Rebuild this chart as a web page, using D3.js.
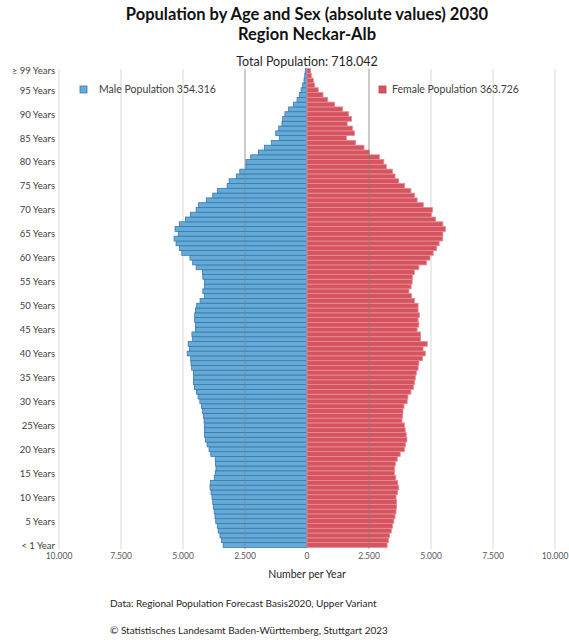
<!DOCTYPE html>
<html>
<head>
<meta charset="utf-8">
<script src="https://d3js.org/d3.v7.min.js"></script>
<style>
  body { margin: 0; background: #fff; }
  svg { font-family: Lato, "Open Sans", sans-serif; }
</style>
</head>
<body>
<svg id="chart"></svg>
<script>
// population per single year of age, index = age 0..99 (99 = "99 and older")
var male = [3380,3450,3510,3580,3620,3680,3710,3740,3780,3800,
            3830,3870,3910,3900,3740,3700,3670,3690,3700,3880,
            3950,4030,4100,4130,4130,4130,4150,4180,4210,4250,
            4320,4390,4460,4540,4580,4570,4580,4650,4680,4690,
            4830,4740,4790,4610,4640,4500,4500,4530,4530,4500,
            4450,4310,4130,4200,4130,4130,4200,4220,4470,4610,
            4720,5050,5150,5280,5360,5190,5320,5150,4900,4700,
            4470,4380,4060,3800,3610,3220,3140,2850,2710,2460,
            2460,2270,1960,1710,1440,1120,1260,1140,1010,980,
            890,740,540,400,310,240,175,120,90,70];
var female = [3230,3290,3330,3400,3450,3500,3550,3590,3610,3610,
              3590,3650,3700,3660,3580,3530,3530,3560,3640,3760,
              3930,3970,4030,4000,3960,3930,3830,3860,3870,3910,
              4040,4070,4190,4290,4340,4370,4410,4480,4510,4660,
              4770,4680,4850,4580,4580,4440,4510,4480,4530,4480,
              4480,4340,4220,4110,4200,4240,4250,4330,4510,4820,
              4960,5090,5230,5330,5470,5480,5580,5480,5190,5020,
              5060,4690,4440,4340,4190,3940,3700,3550,3450,3200,
              3100,2920,2520,2300,1960,1590,1910,1830,1620,1800,
              1680,1440,1115,835,645,455,310,255,175,150];

var labelAges = [99,95,90,85,80,75,70,65,60,55,50,45,40,35,30,25,20,15,10,5,0];
var labelTexts = ["≥ 99 Years","95 Years","90 Years","85 Years","80 Years","75 Years",
                  "70 Years","65 Years","60 Years","55 Years","50 Years","45 Years",
                  "40 Years","35 Years","30 Years","25Years","20 Years","15 Years",
                  "10 Years","5 Years","< 1 Year"];
var xTicks = [-10000,-7500,-5000,-2500,0,2500,5000,7500,10000];

var maleLabel = "Male Population 354.316";
var femaleLabel = "Female Population 363.726";
var totalLabel = "Total Population: 718.042";

var width = 569, height = 640;
var svg = d3.select("#chart").attr("width", width).attr("height", height);

var x = d3.scaleLinear().domain([-10000, 10000]).range([59, 555]);
var y = d3.scaleBand().domain(d3.range(99, -1, -1)).range([68.6, 547.4]).padding(0);

var fmt = function (v) { return d3.format(",")(Math.abs(v)).replace(/,/g, "."); };

// gridlines
svg.append("g").selectAll("line")
    .data(xTicks)
    .enter().append("line")
    .attr("x1", function (d) { return x(d); })
    .attr("x2", function (d) { return x(d); })
    .attr("y1", 69).attr("y2", 549)
    .attr("stroke", "#d9d9d9").attr("stroke-width", 1);

// bars
var ages = d3.range(0, 100);
svg.append("g").selectAll("rect")
    .data(ages)
    .enter().append("rect")
    .attr("x", function (a) { return x(-male[a]); })
    .attr("y", function (a) { return y(a); })
    .attr("width", function (a) { return x(0) - x(-male[a]); })
    .attr("height", y.bandwidth())
    .attr("fill", "#66abd8").attr("stroke", "#3a78ad").attr("stroke-width", 0.8);

svg.append("g").selectAll("rect")
    .data(ages)
    .enter().append("rect")
    .attr("x", x(0))
    .attr("y", function (a) { return y(a); })
    .attr("width", function (a) { return x(female[a]) - x(0); })
    .attr("height", y.bandwidth())
    .attr("fill", "#d6545f").attr("stroke", "#e58e97").attr("stroke-width", 0.8);

// gridlines showing through the bars
svg.append("g").selectAll("line")
    .data([-2500, 2500])
    .enter().append("line")
    .attr("x1", function (d) { return x(d); })
    .attr("x2", function (d) { return x(d); })
    .attr("y1", 69).attr("y2", 549)
    .attr("stroke", "#7f7f7f").attr("stroke-opacity", 0.6);

// x tick labels
svg.append("g").selectAll("text")
    .data(xTicks)
    .enter().append("text")
    .attr("x", function (d) { return x(d); })
    .attr("y", 559)
    .attr("text-anchor", "middle")
    .attr("font-size", 8.5).attr("fill", "#595959")
    .text(fmt);

// age labels
svg.append("g").selectAll("text")
    .data(labelAges)
    .enter().append("text")
    .attr("x", 55)
    .attr("y", function (a) { return y(a) + y.bandwidth() / 2 + 3.5; })
    .attr("text-anchor", "end")
    .attr("font-size", 9.5).attr("fill", "#404040")
    .text(function (a, i) { return labelTexts[i]; });

// titles
svg.append("text").attr("x", 307).attr("y", 20).attr("text-anchor", "middle")
    .attr("font-size", 16.5).attr("font-weight", "bold").attr("fill", "#111")
    .text("Population by Age and Sex (absolute values) 2030");
svg.append("text").attr("x", 307).attr("y", 40).attr("text-anchor", "middle")
    .attr("font-size", 16.5).attr("font-weight", "bold").attr("fill", "#111")
    .text("Region Neckar-Alb");
svg.append("text").attr("x", 307).attr("y", 66).attr("text-anchor", "middle")
    .attr("font-size", 12.5).attr("fill", "#262626")
    .text(totalLabel);

// legend
svg.append("rect").attr("x", 80).attr("y", 86).attr("width", 7).attr("height", 7)
    .attr("fill", "#66abd8").attr("stroke", "#3a78ad").attr("stroke-width", 0.8);
svg.append("text").attr("x", 99).attr("y", 93).attr("font-size", 10.5).attr("fill", "#404040")
    .text(maleLabel);
svg.append("rect").attr("x", 379).attr("y", 86).attr("width", 7).attr("height", 7)
    .attr("fill", "#d6545f").attr("stroke", "#c8404e").attr("stroke-width", 0.8);
svg.append("text").attr("x", 392).attr("y", 93).attr("font-size", 10.5).attr("fill", "#404040")
    .text(femaleLabel);

// axis title and notes
svg.append("text").attr("x", 307).attr("y", 578).attr("text-anchor", "middle")
    .attr("font-size", 10.5).attr("fill", "#262626")
    .text("Number per Year");
svg.append("text").attr("x", 110).attr("y", 607).attr("font-size", 10).attr("fill", "#262626")
    .text("Data: Regional Population Forecast Basis2020, Upper Variant");
svg.append("text").attr("x", 110).attr("y", 634).attr("font-size", 10).attr("fill", "#262626")
    .text("© Statistisches Landesamt Baden-Württemberg, Stuttgart 2023");
</script>
</body>
</html>
